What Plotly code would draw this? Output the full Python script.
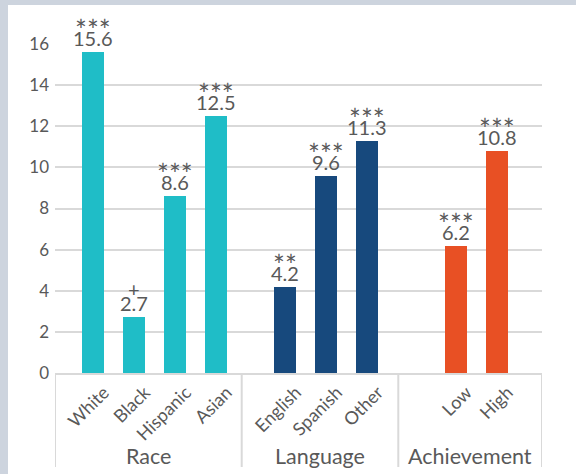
import plotly.graph_objects as go

# ---- data ----
groups = ["Race", "Language", "Achievement"]
group_categories = [
    ["White", "Black", "Hispanic", "Asian"],
    ["English", "Spanish", "Other"],
    ["Low", "High"],
]
group_values = [
    [15.6, 2.7, 8.6, 12.5],
    [4.2, 9.6, 11.3],
    [6.2, 10.8],
]
group_sig = [
    ["***", "+", "***", "***"],
    ["**", "***", "***"],
    ["***", "***"],
]
group_colors = ["#1FBDC7", "#17497D", "#E85024"]
y_ticks = [0, 2, 4, 6, 8, 10, 12, 14, 16]

# ---- layout parameters (axis units) ----
group_widths = [186.7, 156.6, 143.7]
bar_step = 41.0
bar_offset = 6.0
bar_width = 21.7

L, R, T, B = 55, 34, 44, 101
W, H = 576, 474
plot_h = H - T - B
plot_w = W - L - R

gray_txt = "#595959"
grid = "#D9D9D9"
font_family = "Lato, Carlito, Calibri, sans-serif"

fig = go.Figure()
annotations = []
shapes = []
tickvals, ticktext = [], []

start = 0.0
bounds = [0.0]
for g, cats in enumerate(group_categories):
    n = len(cats)
    center = start + group_widths[g] / 2 + bar_offset
    xs = [center + (i - (n - 1) / 2) * bar_step for i in range(n)]
    fig.add_trace(go.Bar(
        x=xs, y=group_values[g], width=bar_width,
        marker=dict(color=group_colors[g], line=dict(width=0)),
        name=groups[g], showlegend=False, hoverinfo="skip",
    ))
    for x, v, s in zip(xs, group_values[g], group_sig[g]):
        annotations.append(dict(
            x=x, y=v, xref="x", yref="y", text=f"{v:.1f}",
            showarrow=False, yanchor="bottom", yshift=0,
            font=dict(family=font_family, size=20, color=gray_txt),
        ))
        if s == "+":
            annotations.append(dict(
                x=x, y=v, xref="x", yref="y", text=s,
                showarrow=False, yanchor="bottom", yshift=14,
                font=dict(family=font_family, size=20, color=gray_txt),
            ))
        else:
            annotations.append(dict(
                x=x, y=v, xref="x", yref="y", text=s,
                showarrow=False, yanchor="bottom", yshift=3,
                font=dict(family=font_family, size=28, color=gray_txt),
            ))
    tickvals += xs
    ticktext += cats
    annotations.append(dict(
        x=start + group_widths[g] / 2, xref="x",
        y=(-(456 - (H - B))) / plot_h, yref="paper", yanchor="middle",
        text=groups[g], showarrow=False,
        font=dict(family=font_family, size=21.5, color=gray_txt),
    ))
    start += group_widths[g]
    bounds.append(start)

div_bottom = -(467 - (H - B)) / plot_h
for bx in bounds:
    shapes.append(dict(type="line", xref="x", yref="paper",
                       x0=bx, x1=bx, y0=0, y1=div_bottom,
                       line=dict(color=grid, width=2)))

# outer slate frame (left and top strips)
frame = "#CDD4DE"
px2x = lambda px: (px - L) / plot_w
py2y = lambda py: (H - B - py) / plot_h
shapes.append(dict(type="rect", xref="paper", yref="paper", layer="below",
                   x0=px2x(-2), x1=px2x(8), y0=py2y(H + 2), y1=py2y(-2),
                   fillcolor=frame, line=dict(width=0)))
shapes.append(dict(type="rect", xref="paper", yref="paper", layer="below",
                   x0=px2x(-2), x1=px2x(W + 2), y0=py2y(5), y1=py2y(-2),
                   fillcolor=frame, line=dict(width=0)))

# cropped title fragment at very top
annotations.append(dict(
    x=px2x(33), y=py2y(3), xref="paper", yref="paper",
    xanchor="center", yanchor="bottom", text="g", showarrow=False,
    font=dict(family=font_family, size=22, color="#1F3864"),
))

fig.update_layout(
    width=W, height=H,
    margin=dict(l=L, r=R, t=T, b=B, pad=0),
    paper_bgcolor="white", plot_bgcolor="white",
    bargap=0,
    annotations=annotations, shapes=shapes,
    font=dict(family=font_family, color=gray_txt),
    xaxis=dict(
        range=[0, sum(group_widths)], tickvals=tickvals, ticktext=ticktext,
        tickangle=-45, tickfont=dict(family=font_family, size=18, color=gray_txt),
        ticklabelshift=11, ticklabelstandoff=0,
        showgrid=False, zeroline=False, showline=True, linecolor=grid, linewidth=2,
        ticks="", fixedrange=True,
    ),
    yaxis=dict(
        range=[0, 16], tickvals=y_ticks,
        tickfont=dict(family=font_family, size=17, color=gray_txt),
        showgrid=True, gridcolor=grid, gridwidth=2, zeroline=False,
        showline=False, ticks="", ticklabelstandoff=5, fixedrange=True,
    ),
)

fig.write_html("out.html")
